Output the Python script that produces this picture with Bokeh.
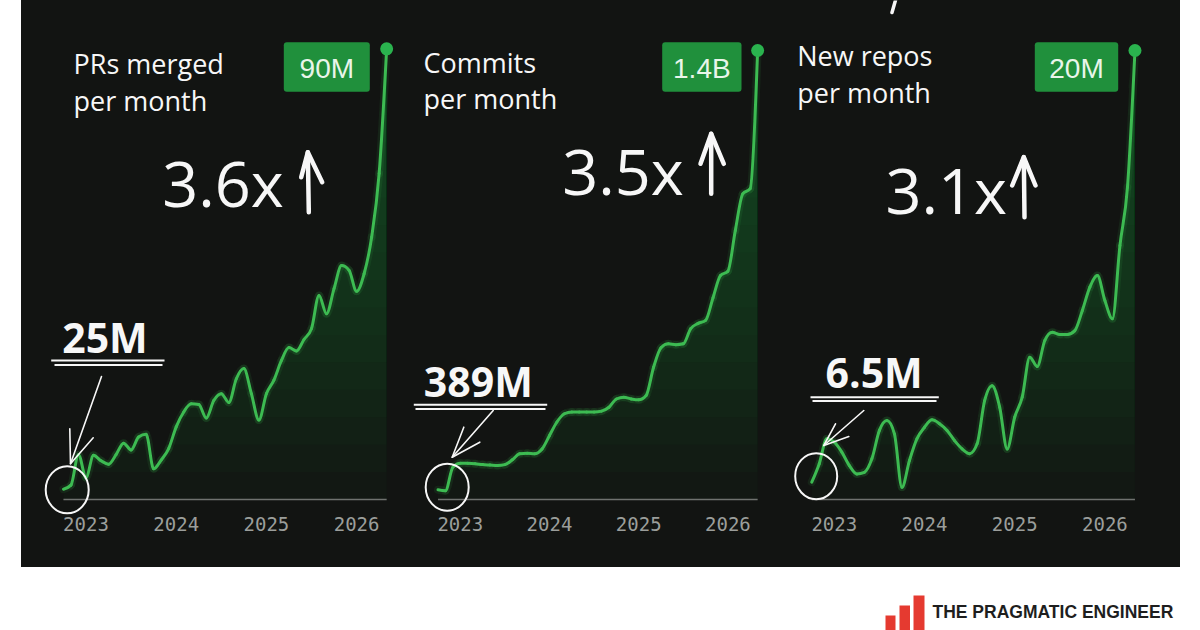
import numpy as np
from bokeh.plotting import figure
from bokeh.layouts import row, column
from bokeh.models import Range1d, FixedTicker, Spacer
from bokeh.core.properties import value
from bokeh.embed import file_html
from bokeh.resources import INLINE

# ---------------- data ----------------
months = ["2022-10", "2022-11", "2022-12",
          "2023-01", "2023-02", "2023-03", "2023-04", "2023-05", "2023-06",
          "2023-07", "2023-08", "2023-09", "2023-10", "2023-11", "2023-12",
          "2024-01", "2024-02", "2024-03", "2024-04", "2024-05", "2024-06",
          "2024-07", "2024-08", "2024-09", "2024-10", "2024-11", "2024-12",
          "2025-01", "2025-02", "2025-03", "2025-04", "2025-05", "2025-06",
          "2025-07", "2025-08", "2025-09", "2025-10", "2025-11", "2025-12",
          "2026-01", "2026-02", "2026-03", "2026-04", "2026-05"]

prs_merged_m = [25.0, 25.6, 30.1, 26.7, 30.0, 29.2, 28.7, 30.1, 31.8, 30.8,
                32.7, 33.1, 28.0, 29.3, 31.0, 34.2, 36.4, 37.6, 37.5, 35.5,
                38.1, 39.1, 37.8, 41.3, 42.8, 39.1, 35.2, 39.1, 41.1, 44.0,
                45.9, 45.4, 47.1, 48.7, 53.6, 50.9, 54.6, 58.0, 57.3, 54.2,
                56.8, 62.2, 71.6, 90.0]

commits_m = [389, 387, 441, 450, 450, 449, 447, 446, 445, 447,
             458, 472, 473, 472, 483, 514, 545, 564, 568, 568,
             568, 568, 570, 579, 598, 602, 598, 596, 606, 671,
             716, 725, 723, 725, 760, 772, 779, 831, 882, 892,
             986, 1070, 1082, 1400]

new_repos_m = [6.50, 7.08, 7.86, 7.75, 7.44, 7.02, 6.76, 6.81, 7.23, 8.12,
               8.43, 8.01, 6.34, 7.18, 7.86, 8.22, 8.45, 8.33, 8.12, 7.80,
               7.54, 7.39, 7.70, 9.05, 9.52, 8.85, 7.54, 8.53, 9.16, 10.41,
               10.12, 10.93, 11.19, 11.12, 11.12, 11.24, 11.87, 12.60, 12.96, 12.18,
               11.61, 13.90, 15.72, 20.0]

year_ticks = [2023, 2024, 2025, 2026]
year_labels = ["2023", "2024", "2025", "2026"]
panel_titles = [("PRs merged", "per month"), ("Commits", "per month"), ("New repos", "per month")]
end_badges = ["90M", "1.4B", "20M"]
growth = ["3.6x", "3.5x", "3.1x"]
start_notes = ["25M", "389M", "6.5M"]
brand = "THE PRAGMATIC ENGINEER"

# ---------------- style ----------------
BG = "#121412"
LINE = "#3dbb52"
DOT = "#2ab34e"
BADGE = "#20903c"
WHITE = "#f7f7f7"
H_TOP = 567          # height of the dark row (page y 0..567)
FRAME_TOP = 0
FRAME_BOTTOM = H_TOP
BASE_PX = 499
CAP = 0.36           # cap-centre offset (em) used with "middle" baseline


def to_year(m):
    y, mo = m.split("-")
    return int(y) + (int(mo) - 1) / 12.0


xs = np.array([to_year(m) for m in months])

# panel geometry in page pixels (layout only)
GEOM = [
    dict(left=21, width=374, p23=85.5, S=90.2, y0px=488.7, y1px=48.3),
    dict(left=395, width=374, p23=459.8, S=89.2, y0px=489.3, y1px=50.0),
    dict(left=769, width=411, p23=833.8, S=90.2, y0px=481.7, y1px=50.0),
]

ANN = [
    dict(title=(73, 73, 110), mult=(161.7, 205),
         arrow=[(307.3, 151.7), (308.3, 211.7), (300.7, 176.7), (321.7, 181.7)],
         note=(61.7, 351.7), ul=[(50.7, 164, 360), (54, 162, 364.5)],
         ptr=[(101, 376), (70, 463.3), (69.3, 428.3), (92.7, 437.3)],
         ring=(66.7, 489.3, 43, 47), badge=(283.3, 369.3, 41.7, 91.3)),
    dict(title=(423, 71.7, 108), mult=(561.7, 193),
         arrow=[(710.7, 133.3), (710.7, 193.3), (700, 163.3), (723.3, 163.3)],
         note=(423.3, 395), ul=[(413.3, 546.7, 404.3), (415, 545, 408.5)],
         ptr=[(492.7, 410), (451.7, 456.7), (463.3, 426.7), (479.3, 441.7)],
         ring=(446.7, 486.7, 43, 47), badge=(661.7, 741, 41.7, 91.3)),
    dict(title=(796.7, 65, 101.7), mult=(885, 211.7),
         arrow=[(1023.3, 156.7), (1024, 216.7), (1011.7, 185), (1035, 185)],
         note=(825, 386.7), ul=[(810, 938.3, 396.7), (812, 936, 400.5)],
         ptr=[(863.3, 410), (823.3, 445), (835, 423.3), (848.3, 436)],
         ring=(815.7, 475.7, 42, 46), badge=(1034.3, 1117.7, 41.7, 91.3)),
]

series = [prs_merged_m, commits_m, new_repos_m]


def monotone_controls(x, y):
    """Bezier control points of a monotone cubic through (x, y)."""
    n = len(x)
    h = np.diff(x)
    s = np.diff(y) / h
    m = np.zeros(n)
    for i in range(1, n - 1):
        h0, h1, s0, s1 = h[i - 1], h[i], s[i - 1], s[i]
        p = (s0 * h1 + s1 * h0) / (h0 + h1)
        m[i] = (np.sign(s0) + np.sign(s1)) * min(abs(s0), abs(s1), 0.5 * abs(p))
    m[0] = (3 * s[0] - m[1]) / 2
    m[-1] = (3 * s[-1] - m[-2]) / 2
    cx0 = x[:-1] + h / 3
    cy0 = y[:-1] + m[:-1] * h / 3
    cx1 = x[1:] - h / 3
    cy1 = y[1:] - m[1:] * h / 3
    return cx0, cy0, cx1, cy1


def make_panel(i):
    g = GEOM[i]
    a = ANN[i]
    vals = np.array(series[i], dtype=float)
    S = g["S"]
    x0 = 2023 - (g["p23"] - g["left"]) / S
    x1 = x0 + g["width"] / S
    k = (vals[-1] - vals[0]) / (g["y0px"] - g["y1px"])
    yb = vals[0] - (FRAME_BOTTOM - g["y0px"]) * k
    yt = vals[0] + (g["y0px"] - FRAME_TOP) * k

    X = lambda px: x0 + (px - g["left"]) / S
    Y = lambda py: vals[0] + (g["y0px"] - py) * k

    p = figure(width=g["width"], height=H_TOP,
               x_range=Range1d(x0, x1), y_range=Range1d(yb, yt),
               output_backend="svg", toolbar_location=None,
               y_axis_location=None, min_border=0,
               background_fill_color=BG, border_fill_color=BG,
               outline_line_color=None)
    p.grid.visible = False

    base = Y(BASE_PX)
    ax = p.xaxis[0]
    ax.ticker = FixedTicker(ticks=year_ticks)
    ax.major_label_overrides = {t: l for t, l in zip(year_ticks, year_labels)}
    ax.fixed_location = base
    ax.axis_line_color = None
    ax.major_tick_line_color = None
    ax.minor_tick_line_color = None
    ax.major_label_standoff = 11
    ax.major_label_text_color = "#9b9e9b"
    ax.major_label_text_font = "DejaVu Sans Mono"
    ax.major_label_text_font_size = "19px"

    # gradient fill under curve
    top = Y(60)
    N = 16
    n = len(vals)
    for j in range(N):
        t = base + (top - base) * j / N
        p.varea(x=xs, y1=np.full(n, t), y2=np.maximum(vals, t),
                fill_color="#22c04c", fill_alpha=0.022)

    # baseline
    p.segment(x0=[xs[0]], y0=[base], x1=[xs[-1]], y1=[base],
              line_color="#6f726f", line_width=1.5)

    # smooth series line
    cx0, cy0, cx1, cy1 = monotone_controls(xs, vals)
    seg = dict(x0=xs[:-1], y0=vals[:-1], x1=xs[1:], y1=vals[1:],
               cx0=cx0, cy0=cy0, cx1=cx1, cy1=cy1)
    p.bezier(**seg, line_color=LINE, line_width=8, line_alpha=0.10, line_cap="round")
    p.bezier(**seg, line_color=LINE, line_width=3, line_cap="round")
    p.scatter([xs[-1]], [vals[-1]], size=13, fill_color=DOT, line_color=None)

    # badge
    bl, br, bt, bb = a["badge"]
    p.quad(left=[X(bl)], right=[X(br)], top=[Y(bt)], bottom=[Y(bb)],
           fill_color=BADGE, line_color=None, border_radius=3)
    p.text(x=[X((bl + br) / 2)], y=[Y((bt + bb) / 2 + 1)], text=[end_badges[i]],
           text_font=value("Liberation Sans"), text_font_size="28px",
           text_color="#e9f5ea", text_align="center", text_baseline="middle")

    # titles
    tx, b1, b2 = a["title"]
    fs = 27
    p.text(x=[X(tx), X(tx)], y=[Y(b1 - CAP * fs), Y(b2 - CAP * fs)], text=list(panel_titles[i]),
           text_font=value("Open Sans"), text_font_size=f"{fs}px",
           text_color=WHITE, text_align="left", text_baseline="middle")

    # growth multiplier
    mx, my = a["mult"]
    fs = 63
    p.text(x=[X(mx)], y=[Y(my - CAP * fs)], text=[growth[i]],
           text_font=value("Open Sans"), text_font_size=f"{fs}px",
           text_color=WHITE, text_align="left", text_baseline="middle")
    (tpx, tpy), (bx, by), (lx, ly), (rx, ry) = a["arrow"]
    p.multi_line(xs=[[X(tpx), X(bx)], [X(lx), X(tpx), X(rx)]],
                 ys=[[Y(tpy), Y(by)], [Y(ly), Y(tpy), Y(ry)]],
                 line_color=WHITE, line_width=4.5, line_cap="round", line_join="round")

    # start note
    nx, ny = a["note"]
    fs = 41
    p.text(x=[X(nx)], y=[Y(ny - CAP * fs)], text=[start_notes[i]],
           text_font=value("Open Sans"), text_font_size=f"{fs}px", text_font_style="bold",
           text_color=WHITE, text_align="left", text_baseline="middle")
    p.segment(x0=[X(u[0]) for u in a["ul"]], x1=[X(u[1]) for u in a["ul"]],
              y0=[Y(u[2]) for u in a["ul"]], y1=[Y(u[2]) for u in a["ul"]],
              line_color=WHITE, line_width=2)
    (fx, fy), (qx, qy), (h1x, h1y), (h2x, h2y) = a["ptr"]
    p.multi_line(xs=[[X(fx), X(qx)], [X(h1x), X(qx), X(h2x)]],
                 ys=[[Y(fy), Y(qy)], [Y(h1y), Y(qy), Y(h2y)]],
                 line_color=WHITE, line_width=1.6, line_cap="round", line_join="round")
    cx, cy, cw, ch = a["ring"]
    p.ellipse(x=[X(cx)], y=[Y(cy)], width=[cw / S], height=[ch * k],
              fill_color=None, line_color=WHITE, line_width=2)

    if i == 2:
        # descender stroke of the cropped headline above the panels
        p.line(x=[X(895.5), X(891.5)], y=[Y(-2), Y(12)], line_color=WHITE,
               line_width=3.5, line_cap="round")
    return p


panels = [make_panel(i) for i in range(3)]

# footer with logo
foot = figure(width=1200, height=630 - H_TOP, x_range=Range1d(0, 1200),
              y_range=Range1d(630, H_TOP), output_backend="svg",
              toolbar_location=None, x_axis_location=None, y_axis_location=None,
              min_border=0, outline_line_color=None,
              background_fill_color="white", border_fill_color="white")
foot.grid.visible = False
foot.quad(left=[885, 899, 913], right=[895, 909.5, 924], top=[615, 605, 595],
          bottom=[632, 632, 632], fill_color="#e53a30", line_color=None)
foot.text(x=[932], y=[611.3], text=[brand], text_font=value("Liberation Sans"),
          text_font_size="17.5px", text_font_style="bold", text_color="#1e1e1e",
          text_align="left", text_baseline="middle")

top_row = row(Spacer(width=21, height=H_TOP, styles={"background-color": "white"}),
              *panels, styles={"background-color": BG})
layout = column(top_row, foot)

open("out.html", "w").write(file_html(layout, INLINE))
